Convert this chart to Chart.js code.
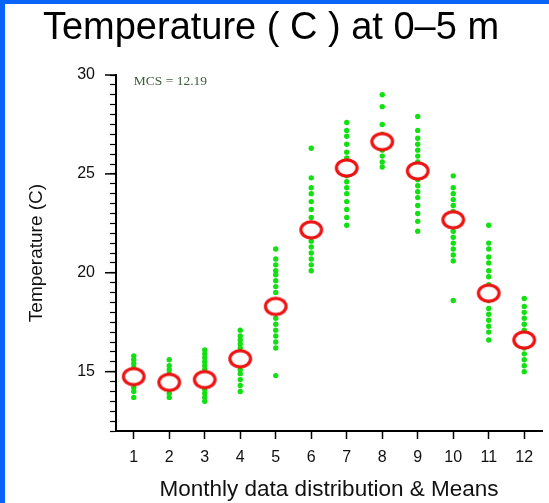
<!DOCTYPE html>
<html>
<head>
<meta charset="utf-8">
<script src="https://cdn.jsdelivr.net/npm/chart.js@4.4.1/dist/chart.umd.min.js"></script>
<style>
  html, body { margin: 0; padding: 0; background: #fff; }
  #wrap { position: relative; width: 549px; height: 503px; background: #fff; overflow: hidden; }
  #chart { position: absolute; left: 0; top: 0; }
  .bar { position: absolute; background: #0a64f8; }
</style>
</head>
<body>
<div id="wrap">
  <canvas id="chart" width="549" height="503"></canvas>
  <div class="bar" style="left:0;top:0;width:5px;height:503px"></div>
  <div class="bar" style="left:0;top:0;width:549px;height:4px"></div>
</div>
<script>
const months = [1, 2, 3, 4, 5, 6, 7, 8, 9, 10, 11, 12];
const monthlyMeans = [14.75, 14.46, 14.6, 15.65, 18.3, 22.17, 25.3, 26.63, 25.15, 22.68, 18.97, 16.6];
// individual observations, one list per month
const monthlyObs = [
  [15.8, 15.6, 15.4, 15.2, 15.0, 14.8, 14.6, 14.4, 14.2, 14.0, 13.7],
  [15.6, 15.3, 15.1, 14.9, 14.7, 14.5, 14.3, 14.1, 13.9, 13.7],
  [16.1, 15.9, 15.7, 15.5, 15.3, 15.1, 14.9, 14.6, 14.3, 14.1, 13.9, 13.7, 13.5],
  [17.1, 16.8, 16.6, 16.4, 16.2, 16.0, 15.8, 15.5, 15.3, 15.1, 14.9, 14.6, 14.3, 14.0],
  [21.2, 20.7, 20.4, 20.1, 19.9, 19.6, 19.3, 19.0, 18.6, 18.3, 18.0, 17.7, 17.4, 17.1, 16.8, 16.5, 16.2, 14.8],
  [26.3, 24.8, 24.3, 24.0, 23.6, 23.2, 22.8, 22.5, 22.2, 21.9, 21.6, 21.3, 21.0, 20.7, 20.4, 20.1],
  [27.6, 27.2, 26.9, 26.5, 26.1, 25.8, 25.5, 25.2, 24.9, 24.6, 24.3, 24.0, 23.6, 23.2, 22.8, 22.4],
  [29.0, 28.4, 27.5, 27.0, 26.6, 26.2, 25.9, 25.6, 25.35],
  [27.9, 27.2, 26.8, 26.5, 26.2, 25.9, 25.6, 25.1, 24.7, 24.4, 24.1, 23.8, 23.4, 23.0, 22.6, 22.1],
  [24.9, 24.3, 24.0, 23.7, 23.4, 23.1, 22.7, 22.4, 22.1, 21.8, 21.5, 21.2, 20.9, 20.6, 18.6],
  [22.4, 21.5, 21.2, 20.8, 20.5, 20.1, 19.8, 19.4, 19.0, 18.6, 18.2, 17.9, 17.6, 17.3, 17.0, 16.6],
  [18.7, 18.3, 18.0, 17.7, 17.4, 17.1, 16.8, 16.5, 16.2, 15.9, 15.6, 15.3, 15.0]
];
const yLabelTicks = [15, 20, 25, 30];
const yMin = 12, yMax = 30, yMinorStep = 0.5;
const mcsNote = 'MCS = 12.19';

// red ring used as the point style for the means
const ring = document.createElement('canvas');
ring.width = 28; ring.height = 24;
(function () {
  const c = ring.getContext('2d');
  c.beginPath();
  c.ellipse(14, 12, 10.3, 8.2, 0, 0, Math.PI * 2);
  c.fillStyle = '#fff';
  c.fill();
  c.lineWidth = 3.2;
  c.strokeStyle = '#ee1111';
  c.stroke();
})();

const dotData = months.flatMap((m, i) => monthlyObs[i].map(v => ({ x: m, y: v })));
const meanData = months.map((m, i) => ({ x: m, y: monthlyMeans[i] }));

const extras = {
  id: 'extras',
  afterDraw(chart) {
    const ctx = chart.ctx;
    const xs = chart.scales.x, ys = chart.scales.y;
    const left = chart.chartArea.left;
    ctx.save();
    // longer ticks at the labelled values
    ctx.strokeStyle = '#000';
    ctx.lineWidth = 1.5;
    yLabelTicks.forEach(v => {
      const y = ys.getPixelForValue(v);
      ctx.beginPath();
      ctx.moveTo(left - 11, y);
      ctx.lineTo(left, y);
      ctx.stroke();
    });
    ctx.fillStyle = '#3d5a3d';
    ctx.font = '13.5px "Liberation Serif", "Times New Roman", serif';
    ctx.textBaseline = 'alphabetic';
    ctx.fillText(mcsNote, xs.getPixelForValue(1), ys.getPixelForValue(yMax) + 10);
    ctx.restore();
  }
};

new Chart(document.getElementById('chart'), {
  type: 'scatter',
  data: {
    datasets: [
      {
        data: meanData,
        pointStyle: ring,
        order: 0
      },
      {
        data: dotData,
        pointStyle: 'circle',
        pointRadius: 2.7,
        backgroundColor: '#11e011',
        borderWidth: 0,
        order: 1
      }
    ]
  },
  options: {
    responsive: false,
    animation: false,
    layout: { padding: { left: 0, right: 7, top: 0, bottom: 0 } },
    plugins: {
      legend: { display: false },
      tooltip: { enabled: false },
      title: {
        display: true,
        text: 'Temperature ( C ) at 0\u20135 m',
        color: '#000',
        font: { family: '"Liberation Sans", Arial, sans-serif', size: 38, weight: 'normal' },
        padding: { top: 6, bottom: 23.4 }
      }
    },
    scales: {
      x: {
        type: 'linear',
        min: 0.5,
        max: 12.5,
        afterBuildTicks: axis => { axis.ticks = months.map(v => ({ value: v })); },
        afterFit: scale => { scale.height = 72; },
        grid: { display: true, drawOnChartArea: false, tickLength: 8, tickColor: '#000', tickWidth: 1.5 },
        border: { display: true, color: '#000', width: 2 },
        ticks: {
          color: '#111',
          padding: 9,
          maxRotation: 0,
          autoSkip: false,
          font: { family: '"Liberation Sans", Arial, sans-serif', size: 16 }
        },
        title: {
          display: true,
          text: 'Monthly data distribution & Means',
          color: '#111',
          font: { family: '"Liberation Sans", Arial, sans-serif', size: 22.5 },
          padding: { top: 0, bottom: 0 }
        }
      },
      y: {
        type: 'linear',
        min: yMin,
        max: yMax,
        afterFit: scale => { scale.width = 116; },
        ticks: {
          stepSize: yMinorStep,
          autoSkip: false,
          color: '#111',
          padding: 15,
          font: { family: '"Liberation Sans", Arial, sans-serif', size: 16 },
          callback: v => (yLabelTicks.includes(v) ? String(v) : '')
        },
        grid: { display: true, drawOnChartArea: false, tickLength: 6, tickColor: '#000', tickWidth: 1.2 },
        border: { display: true, color: '#000', width: 2 },
        title: {
          display: true,
          text: 'Temperature (C)',
          color: '#111',
          font: { family: '"Liberation Sans", Arial, sans-serif', size: 19 },
          padding: { top: 25, bottom: 0 }
        }
      }
    }
  },
  plugins: [extras]
});
</script>
</body>
</html>
